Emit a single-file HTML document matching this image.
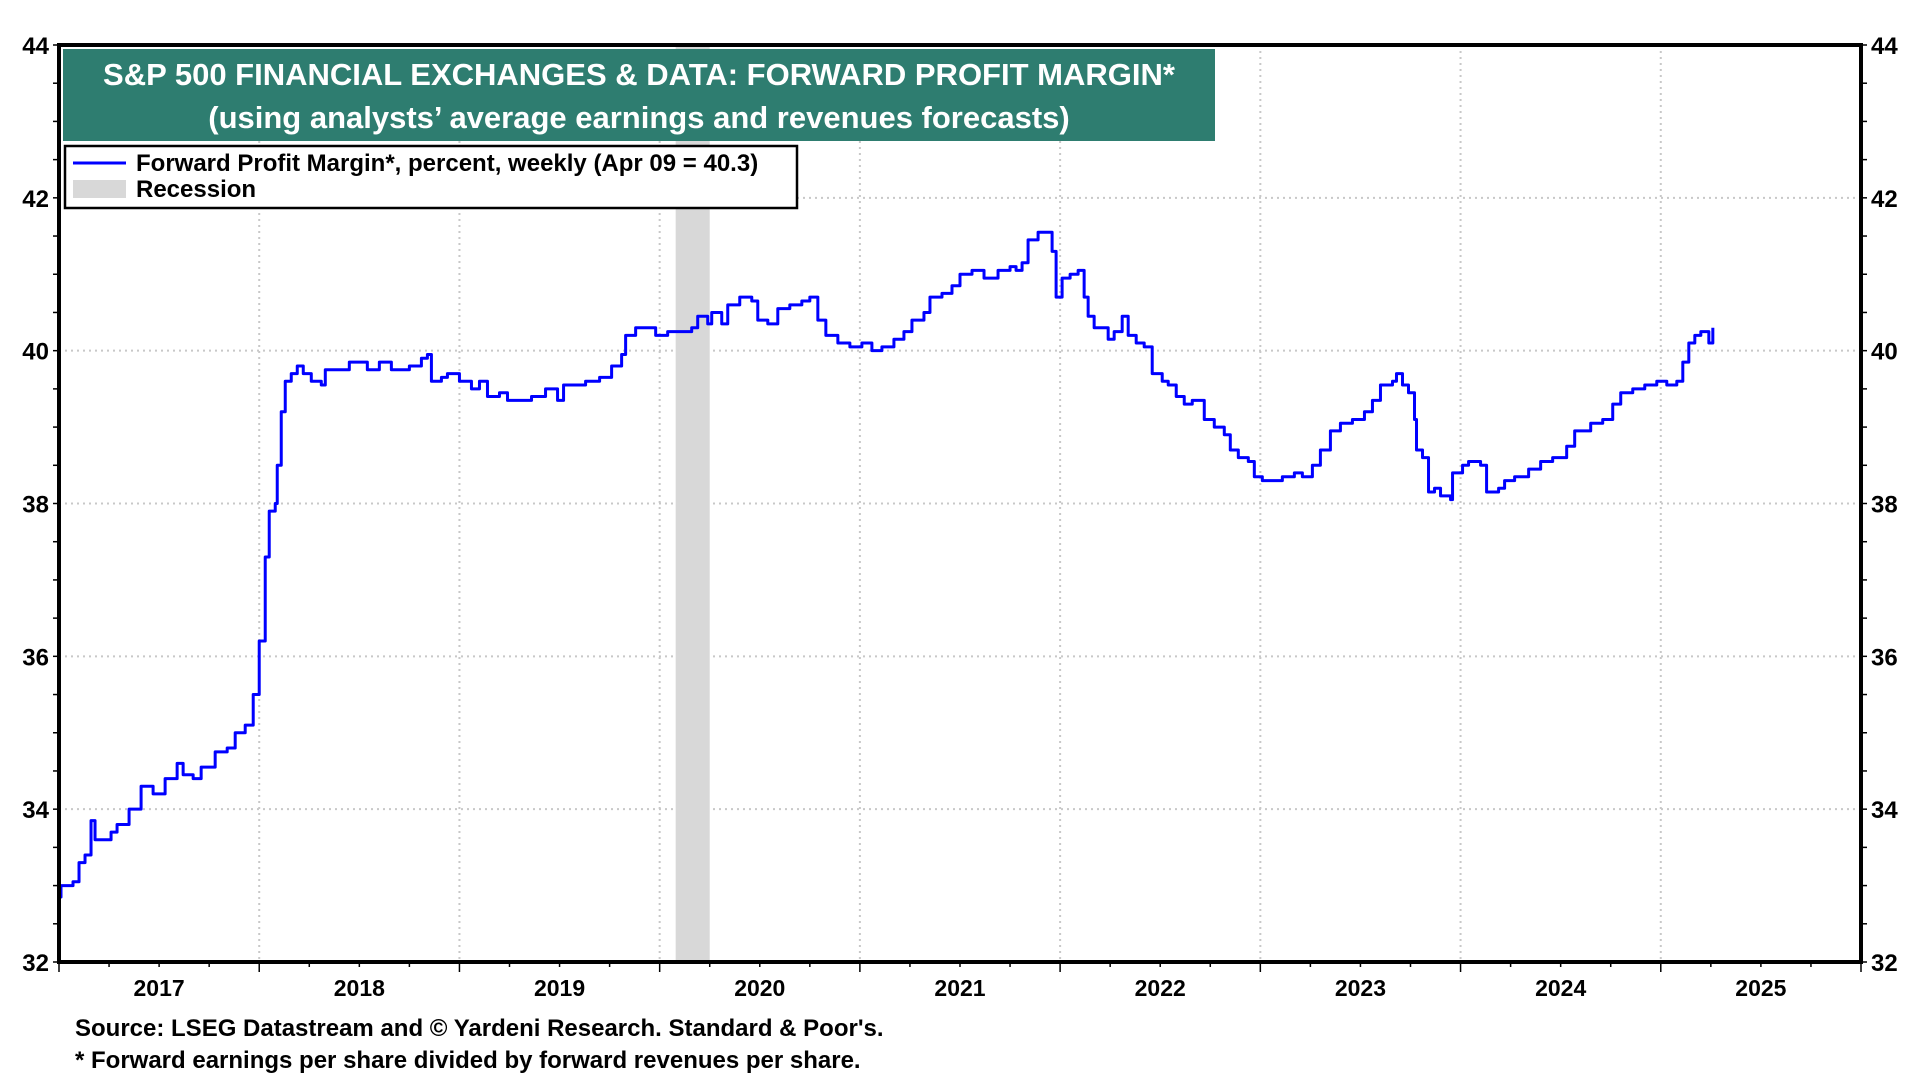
<!DOCTYPE html>
<html><head><meta charset="utf-8"><style>
body{margin:0;background:#fff;width:1920px;height:1080px;overflow:hidden;font-family:"Liberation Sans",Arial,sans-serif}
svg text{font-family:"Liberation Sans",Arial,sans-serif;font-weight:bold}
</style></head><body>
<svg id="chart" width="1920" height="1080" xmlns="http://www.w3.org/2000/svg">
<g id="grid"></g>
<g id="rec"></g>
<g id="series"></g>
<g id="axes"></g>
<rect x="63" y="49" width="1152" height="92" fill="#2e7d70"/>
<text x="639" y="85" fill="#fff" font-size="31" text-anchor="middle">S&amp;P 500 FINANCIAL EXCHANGES &amp; DATA: FORWARD PROFIT MARGIN*</text>
<text x="639" y="128" fill="#fff" font-size="31" text-anchor="middle">(using analysts’ average earnings and revenues forecasts)</text>
<g>
<rect x="65" y="146" width="732" height="62" fill="#fff" stroke="#000" stroke-width="2.5"/>
<line x1="73" y1="163" x2="126" y2="163" stroke="#0000ff" stroke-width="3"/>
<text x="136" y="171" font-size="24">Forward Profit Margin*, percent, weekly (Apr 09 = 40.3)</text>
<rect x="73" y="180" width="53" height="18" fill="#d8d8d8"/>
<text x="136" y="197" font-size="24">Recession</text>
</g>
<text x="75" y="1036" font-size="24">Source: LSEG Datastream and © Yardeni Research. Standard &amp; Poor's.</text>
<text x="75" y="1068" font-size="24">* Forward earnings per share divided by forward revenues per share.</text>
</svg>
<script>
const yearOffsets=[0,.01,.07,.10,.13,.16,.18,.26,.29,.35,.41,.47,.53,.59,.62,.67,.71,.78,.84,.88,.93,.97,1.00,1.03,1.05,1.08,1.09,1.11,1.13,1.16,1.19,1.22,1.26,1.31,1.33,1.42,1.45,1.54,1.60,1.66,1.75,1.81,1.84,1.86,1.91,1.94,2.00,2.06,2.10,2.14,2.20,2.24,2.30,2.36,2.43,2.49,2.52,2.58,2.63,2.70,2.76,2.81,2.83,2.88,2.94,2.98,3.04,3.10,3.16,3.19,3.24,3.26,3.31,3.34,3.40,3.46,3.49,3.54,3.59,3.65,3.71,3.75,3.79,3.83,3.89,3.95,4.01,4.06,4.11,4.17,4.22,4.26,4.32,4.35,4.41,4.46,4.50,4.56,4.62,4.69,4.75,4.78,4.81,4.84,4.89,4.94,4.96,4.98,5.01,5.05,5.09,5.12,5.14,5.17,5.24,5.27,5.31,5.34,5.38,5.42,5.46,5.51,5.54,5.58,5.62,5.66,5.72,5.77,5.82,5.85,5.89,5.94,5.97,6.01,6.06,6.11,6.17,6.21,6.26,6.30,6.35,6.40,6.46,6.52,6.56,6.60,6.66,6.68,6.71,6.74,6.77,6.78,6.81,6.84,6.87,6.90,6.95,6.96,7.01,7.04,7.10,7.13,7.19,7.22,7.27,7.34,7.40,7.46,7.53,7.57,7.65,7.71,7.76,7.80,7.86,7.92,7.98,8.03,8.08,8.11,8.14,8.17,8.20,8.23,8.24,8.26];
const marginValues=[32.85,33.0,33.05,33.3,33.4,33.85,33.6,33.7,33.8,34.0,34.3,34.2,34.4,34.6,34.45,34.4,34.55,34.75,34.8,35.0,35.1,35.5,36.2,37.3,37.9,38.0,38.5,39.2,39.6,39.7,39.8,39.7,39.6,39.55,39.75,39.75,39.85,39.75,39.85,39.75,39.8,39.9,39.95,39.6,39.65,39.7,39.6,39.5,39.6,39.4,39.45,39.35,39.35,39.4,39.5,39.35,39.55,39.55,39.6,39.65,39.8,39.95,40.2,40.3,40.3,40.2,40.25,40.25,40.3,40.45,40.35,40.5,40.35,40.6,40.7,40.65,40.4,40.35,40.55,40.6,40.65,40.7,40.4,40.2,40.1,40.05,40.1,40.0,40.05,40.15,40.25,40.4,40.5,40.7,40.75,40.85,41.0,41.05,40.95,41.05,41.1,41.05,41.15,41.45,41.55,41.55,41.3,40.7,40.95,41.0,41.05,40.7,40.45,40.3,40.15,40.25,40.45,40.2,40.1,40.05,39.7,39.6,39.55,39.4,39.3,39.35,39.1,39.0,38.9,38.7,38.6,38.55,38.35,38.3,38.3,38.35,38.4,38.35,38.5,38.7,38.95,39.05,39.1,39.2,39.35,39.55,39.6,39.7,39.55,39.45,39.1,38.7,38.6,38.15,38.2,38.1,38.05,38.4,38.5,38.55,38.5,38.15,38.2,38.3,38.35,38.45,38.55,38.6,38.75,38.95,39.05,39.1,39.3,39.45,39.5,39.55,39.6,39.55,39.6,39.85,40.1,40.2,40.25,40.25,40.1,40.3];
const yearLabels=["2017","2018","2019","2020","2021","2022","2023","2024","2025"];
const yTicks=[32,34,36,38,40,42,44];
const recessionStart=3.08, recessionEnd=3.25;
const NS="http://www.w3.org/2000/svg";
const L=59,R=1861,T=45,B=962;
const xs=d=>L+d*(R-L)/9;
const ys=v=>B-(v-32)*(B-T)/12;
function mk(tag,attrs,parent){const e=document.createElementNS(NS,tag);for(const k in attrs)e.setAttribute(k,attrs[k]);parent.appendChild(e);return e;}
const grid=document.getElementById('grid'),axes=document.getElementById('axes');
yTicks.forEach(v=>{
  if(v>32&&v<44){const g=mk('line',{x1:L,x2:R,y1:ys(v),y2:ys(v),stroke:'#c8c8c8','stroke-width':2,'stroke-dasharray':'2,4'},grid);
  
  }
  const t1=mk('text',{x:L-10,y:ys(v)+9,'font-size':24,'text-anchor':'end'},axes);t1.textContent=v;
  
  
  const t2=mk('text',{x:R+10,y:ys(v)+9,'font-size':24},axes);t2.textContent=v;
  
  
});
for(let v=32;v<=44;v+=0.5){
  mk('line',{x1:L-6,x2:L,y1:ys(v),y2:ys(v),stroke:'#000','stroke-width':1.5},axes);
  mk('line',{x1:R,x2:R+6,y1:ys(v),y2:ys(v),stroke:'#000','stroke-width':1.5},axes);
}
yearLabels.forEach((lab,i)=>{
  if(i>0){const g=mk('line',{x1:xs(i),x2:xs(i),y1:T,y2:B,stroke:'#c8c8c8','stroke-width':2,'stroke-dasharray':'2,4'},grid);
  
  }
  const t=mk('text',{x:xs(i+0.5),y:996,'font-size':23,'text-anchor':'middle'},axes);t.textContent=lab;
  
  
});
for(let q=0;q<=36;q++){mk('line',{x1:xs(q/4),x2:xs(q/4),y1:B,y2:B+(q%4?5:10),stroke:'#000','stroke-width':1.5},axes);}
const rr=mk('rect',{x:xs(recessionStart),y:T,width:xs(recessionEnd)-xs(recessionStart),height:B-T,fill:'#d8d8d8'},document.getElementById('rec'));


let d='';
yearOffsets.forEach((t,i)=>{const x=xs(t),y=ys(marginValues[i]);if(i===0)d+='M'+x+','+y;else d+='H'+x+'V'+y;});
const p=mk('path',{d:d,fill:'none',stroke:'#0000ff','stroke-width':3,'stroke-linejoin':'round'},document.getElementById('series'));


const f=mk('rect',{x:L,y:T,width:R-L,height:B-T,fill:'none',stroke:'#000','stroke-width':4},axes);


</script>
</body></html>
